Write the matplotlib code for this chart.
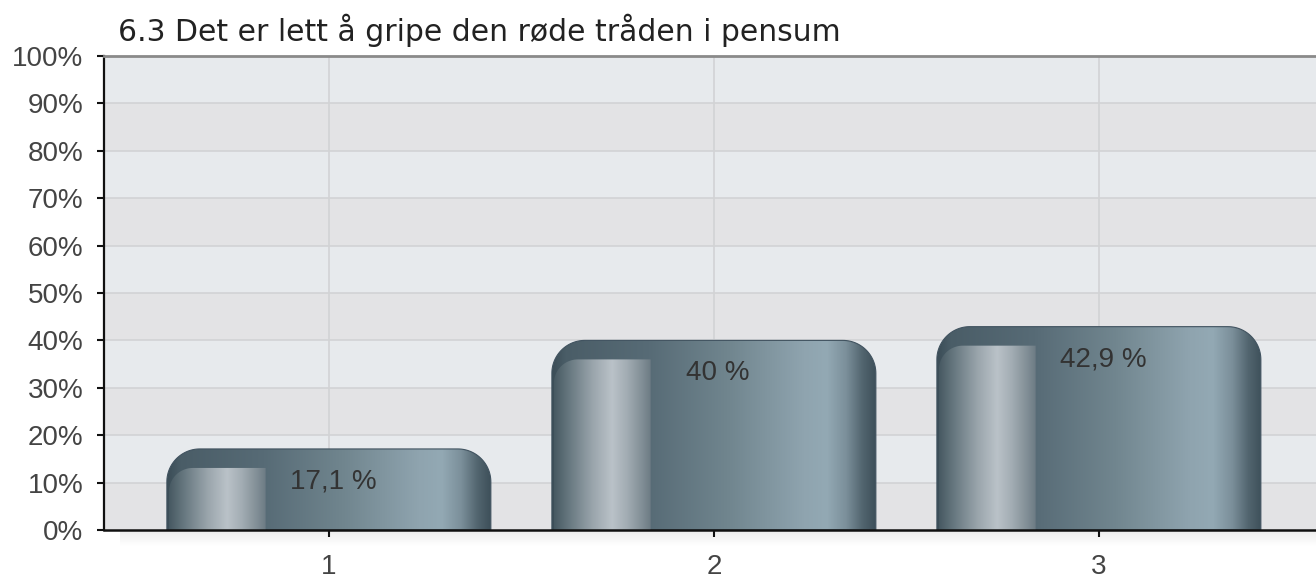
import numpy as np
import matplotlib
matplotlib.use("Agg")
import matplotlib.pyplot as plt
from matplotlib.path import Path
from matplotlib.patches import PathPatch
from matplotlib.colors import LinearSegmentedColormap

title = "6.3 Det er lett å gripe den røde tråden i pensum"
categories = ["1", "2", "3"]
values = [17.1, 40.0, 42.9]
labels = ["17,1 %", "40 %", "42,9 %"]

plt.rcParams['font.family'] = ['Liberation Sans', 'DejaVu Sans']

W, H = 1316, 578
fig = plt.figure(figsize=(W / 100, H / 100), dpi=100)

# faint shadow under the x axis
sh = fig.add_axes([120 / W, 1 - 546 / H, 1 - 120 / W, 16 / H])
sh.imshow(np.linspace(0, 1, 64).reshape(-1, 1),
          cmap=LinearSegmentedColormap.from_list("sh", ["#ededed", "#ffffff"]),
          aspect="auto", extent=(0, 1, 1, 0))
sh.axis("off")

ax = fig.add_axes([104 / W, 1 - 530 / H, 1 - 104 / W, (530 - 56) / H])

xmin, xmax = 0.416, 3.564
ax.set_xlim(xmin, xmax)
ax.set_ylim(0, 100)

# px per data unit
px_x = (W - 104) / (xmax - xmin)
px_y = (530 - 56) / 100.0

# alternating background bands
for i in range(10):
    c = "#e7eaed" if i % 2 == 1 else "#e3e3e5"
    ax.axhspan(i * 10, i * 10 + 10, color=c, lw=0, zorder=0)
for y in range(10, 100, 10):
    ax.axhline(y, color="#d2d3d5", lw=1.2, zorder=1)
for x in range(1, len(categories) + 1):
    ax.axvline(x, color="#d2d3d5", lw=1.2, zorder=1)

outer_cmap = LinearSegmentedColormap.from_list("outer", [
    (0.0, "#3b4d57"), (0.04, "#4a5d67"), (0.30, "#576b76"),
    (0.55, "#71868f"), (0.78, "#8fa4af"), (0.85, "#93a9b4"),
    (0.91, "#7b8f9a"), (0.96, "#52656f"), (1.0, "#3e505a")])
inner_cmap = LinearSegmentedColormap.from_list("inner", [
    (0.0, "#475962"), (0.15, "#66777f"), (0.40, "#9aa5ac"),
    (0.60, "#bac2c8"), (0.75, "#a3adb4"), (0.92, "#7f8c94"),
    (1.0, "#6c7b84")])


def top_rounded(x0, x1, y0, y1, rx, ry, right_round=True, n=30):
    t = np.linspace(0, np.pi / 2, n)
    pts = [(x0, y0)]
    for a in t:
        pts.append((x0 + rx - rx * np.cos(a), y1 - ry + ry * np.sin(a)))
    if right_round:
        for a in t[::-1]:
            pts.append((x1 - rx + rx * np.cos(a), y1 - ry + ry * np.sin(a)))
    else:
        pts.append((x1, y1))
    pts.append((x1, y0))
    pts.append((x0, y0))
    return Path(pts, closed=True)


grad = np.linspace(0, 1, 256).reshape(1, -1)
bar_w = 324 / px_x
for i, v in enumerate(values):
    xc = i + 1
    x0, x1 = xc - bar_w / 2, xc + bar_w / 2
    outer = PathPatch(top_rounded(x0, x1, 0, v, 33 / px_x, 33 / px_y),
                      facecolor="none", edgecolor="none")
    ax.add_patch(outer)
    im = ax.imshow(grad, cmap=outer_cmap, extent=(x0, x1, 0, v),
                   aspect="auto", interpolation="bilinear", zorder=2)
    im.set_clip_path(outer)
    # thin dark rim along the top
    ax.add_patch(PathPatch(top_rounded(x0, x1, 0, v, 33 / px_x, 33 / px_y),
                           facecolor="none", edgecolor="#415360", lw=0.8,
                           zorder=3))
    # inner highlight panel
    ix0, ix1 = x0 + 2 / px_x, x0 + 0.305 * bar_w
    itop = v - 19 / px_y
    inner = PathPatch(top_rounded(ix0, ix1, 0, itop, 24 / px_x, 24 / px_y,
                                  right_round=False),
                      facecolor="none", edgecolor="none")
    ax.add_patch(inner)
    im2 = ax.imshow(grad, cmap=inner_cmap, extent=(ix0, ix1, 0, itop),
                    aspect="auto", interpolation="bilinear", zorder=3)
    im2.set_clip_path(inner)
    ax.text(xc + 4 / px_x, v - 33 / px_y, labels[i], ha="center", va="center",
            fontsize=20, color="#333333", zorder=5)

ax.set_xlim(xmin, xmax)
ax.set_ylim(0, 100)

ax.set_yticks(range(0, 101, 10))
ax.set_yticklabels([f"{t}%" for t in range(0, 101, 10)])
ax.set_xticks(range(1, len(categories) + 1))
ax.set_xticklabels(categories)
ax.tick_params(axis="y", length=5, width=1.5, pad=10, labelsize=20,
               labelcolor="#444444", color="#111111")
ax.tick_params(axis="x", length=5, width=1.5, pad=12, labelsize=20,
               labelcolor="#444444", color="#111111")

ax.spines["right"].set_visible(False)
ax.spines["left"].set_color("#111111")
ax.spines["left"].set_linewidth(1.6)
ax.spines["bottom"].set_color("#111111")
ax.spines["bottom"].set_linewidth(1.8)
ax.spines["top"].set_color("#8a8a8a")
ax.spines["top"].set_linewidth(2.0)
for s in ax.spines.values():
    s.set_zorder(6)

fig.text(118 / W, 1 - 30 / H, title, ha="left", va="center",
         fontsize=21.5, color="#222222", family=["DejaVu Sans"])

fig.savefig("out.png", dpi=100)
